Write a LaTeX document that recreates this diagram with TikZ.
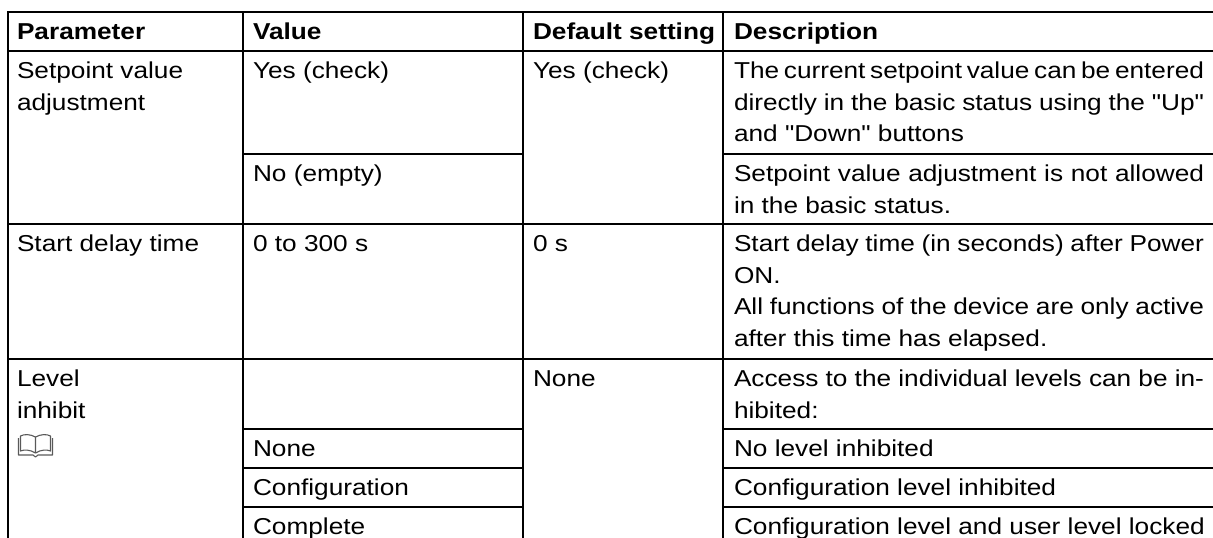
\documentclass[tikz,border=0pt]{standalone}
\usepackage{fontspec}
\setmainfont[FakeStretch=1.14,Ligatures=TeXOff]{Liberation Sans}
\newcommand{\cellbox}[1]{\vtop{\baselineskip=31.5pt\lineskiplimit=-100pt\lineskip=0pt\relax #1}}
\newcommand{\jl}[1]{\hbox to 470pt{\spaceskip=7.3pt plus 12pt minus 3.6pt\relax #1}}
\newcommand{\nl}[1]{\hbox{#1}}
\begin{document}
\begin{tikzpicture}[x=1pt,y=-1pt,
  rule/.style={line width=1.6pt, black},
  txt/.style={anchor=base west, inner sep=0pt, outer sep=0pt, font=\fontsize{23}{31.5}\selectfont},
  hdr/.style={txt, font=\fontsize{23}{31.5}\selectfont\bfseries},
  bookline/.style={line width=1.1pt, draw=black!65, line join=round}]
\useasboundingbox (0,0) rectangle (1213,538);

% table rules
\draw[rule] (8,538) -- (8,12) -- (1213,12);
\draw[rule] (8,51) -- (1213,51);
\draw[rule] (243,154) -- (523,154);
\draw[rule] (723,154) -- (1213,154);
\draw[rule] (8,224) -- (1213,224);
\draw[rule] (8,359) -- (1213,359);
\foreach \yy in {429,468,507} {
  \draw[rule] (243,\yy) -- (523,\yy);
  \draw[rule] (723,\yy) -- (1213,\yy);
}
\foreach \xx in {243,523,723} {
  \draw[rule] (\xx,12) -- (\xx,538);
}

% header
\node[hdr] (hParam) at (17,39) {Parameter};
\node[hdr] (hValue) at (253,39) {Value};
\node[hdr] (hDefault) at (533,39) {Default setting};
\node[hdr] (hDesc) at (734,39) {Description};

% row 1
\node[txt] (pSet) at (17,78.5) {\cellbox{\nl{Setpoint value}\nl{adjustment}}};
\node[txt] (vYes) at (253,78.5) {Yes (check)};
\node[txt] (dYes) at (533,78.5) {Yes (check)};
\node[txt] (sYes) at (734,78.5) {\cellbox{\jl{The current setpoint value can be entered}\jl{directly in the basic status using the "Up"}\nl{and "Down" buttons}}};
\node[txt] (vNo) at (253,181.5) {No (empty)};
\node[txt] (sNo) at (734,181.5) {\cellbox{\jl{Setpoint value adjustment is not allowed}\nl{in the basic status.}}};

% row 2
\node[txt] (pStart) at (17,251.5) {Start delay time};
\node[txt] (vStart) at (253,251.5) {0 to 300 s};
\node[txt] (dStart) at (533,251.5) {0 s};
\node[txt] (sStart) at (734,251.5) {\cellbox{\jl{Start delay time (in seconds) after Power}\nl{ON.}\jl{All functions of the device are only active}\nl{after this time has elapsed.}}};

% row 3
\node[txt] (pLevel) at (17,386.5) {\cellbox{\nl{Level}\nl{inhibit}}};
\node[txt] (dLevel) at (533,386.5) {None};
\node[txt] (sLevel) at (734,386.5) {\cellbox{\jl{Access to the individual levels can be in-}\nl{hibited:}}};
\node[txt] (vNone) at (253,456.5) {None};
\node[txt] (sNone) at (734,456.5) {No level inhibited};
\node[txt] (vConf) at (253,495.5) {Configuration};
\node[txt] (sConf) at (734,495.5) {Configuration level inhibited};
\node[txt] (vComp) at (253,534.5) {Complete};
\node[txt] (sComp) at (734,534.5) {Configuration level and user level locked};

% book icon
\draw[bookline] (35.5,453) -- (35.5,437) .. controls (30,434) and (24,434) .. (20.5,436) -- (20.5,451) .. controls (24,449.5) and (30,449.5) .. (35.5,453);
\draw[bookline] (35.5,437) .. controls (41,434) and (47,434) .. (50.5,436) -- (50.5,451) .. controls (47,449.5) and (41,449.5) .. (35.5,453);
\draw[bookline] (18.5,438) -- (18.5,455) -- (33,455) -- (35.5,457) -- (38,455) -- (52.5,455) -- (52.5,438);
\end{tikzpicture}
\end{document}
